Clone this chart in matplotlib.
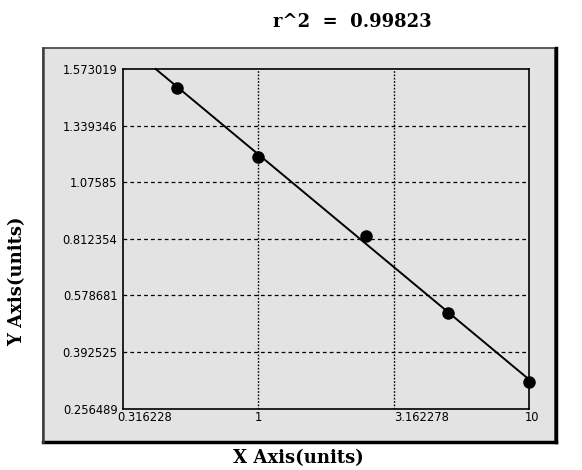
import numpy as np
from matplotlib import pyplot as plt
from matplotlib import transforms
from matplotlib.patches import Rectangle
from matplotlib.lines import Line2D

# standard curve points
conc = [0.5, 1.0, 2.5, 5.0, 10.0]
od = [1.494, 1.193, 0.826, 0.522, 0.319]
r2_text = "r^2  =  0.99823"

x_ticks = [0.316228, 1, 3.162278, 10]
x_labels = ["0.316228", "1", "3.162278", "10"]
y_ticks = [0.256489, 0.392525, 0.578681, 0.812354, 1.07585, 1.339346, 1.573019]
y_labels = ["0.256489", "0.392525", "0.578681", "0.812354", "1.07585", "1.339346", "1.573019"]

panel = '#e3e3e3'


# the y axis puts the labelled values at equal steps
def fwd(v):
    return np.interp(v, y_ticks, np.arange(len(y_ticks)))


def inv(i):
    return np.interp(i, np.arange(len(y_ticks)), y_ticks)


fig = plt.figure(figsize=(5.82, 4.70), dpi=100)
W, H = 582.0, 470.0

# grey panel with shadowed border
fig.patches.append(Rectangle((43 / W, 1 - 442 / H), 512 / W, 394 / H, transform=fig.transFigure,
                             facecolor=panel, edgecolor='#404040', lw=1.2, zorder=-5))
fig.lines.append(Line2D([43 / W, 556 / W], [1 - 442 / H, 1 - 442 / H], transform=fig.transFigure,
                        color='black', lw=2.5, zorder=-4))
fig.lines.append(Line2D([556 / W, 556 / W], [1 - 442 / H, 1 - 48 / H], transform=fig.transFigure,
                        color='black', lw=2.5, zorder=-4))
fig.lines.append(Line2D([43 / W, 43 / W], [1 - 442 / H, 1 - 48 / H], transform=fig.transFigure,
                        color='#404040', lw=1.8, zorder=-4))

ax = fig.add_axes([123 / W, 1 - 408.5 / H, 406 / W, 339.5 / H])
ax.set_facecolor(panel)
ax.set_xscale('log')
ax.set_yscale('function', functions=(fwd, inv))
ax.set_xlim(x_ticks[0], x_ticks[-1])
ax.set_ylim(y_ticks[0], y_ticks[-1])

# fit a straight line in the axis' own coordinates
lx = np.log10(conc)
a, b = np.polyfit(lx, fwd(np.array(od)), 1)
x_top = (len(y_ticks) - 1 - b) / a
xs = np.linspace(x_top, 1.0, 50)
ax.plot(10 ** xs, inv(a * xs + b), color='black', lw=1.4, zorder=3, clip_on=False)
ax.plot(conc, od, 'o', color='black', ms=8, zorder=4, clip_on=False)

for yv in y_ticks[1:-1]:
    ax.axhline(yv, color='black', lw=0.9, ls=(0, (3, 2.5)), zorder=1)
for xv in x_ticks[1:-1]:
    ax.axvline(xv, color='black', lw=1.0, ls=(0, (1.2, 1.2)), zorder=1)

for s in ax.spines.values():
    s.set_linewidth(1.2)
    s.set_color('black')

ax.set_xticks(x_ticks)
ax.set_xticklabels(x_labels)
ax.set_yticks(y_ticks)
ax.set_yticklabels(y_labels)
ax.xaxis.set_minor_locator(plt.NullLocator())
ax.yaxis.set_minor_locator(plt.NullLocator())
ax.tick_params(axis='both', length=0, labelsize=8.3, colors='black')
ax.tick_params(axis='y', pad=4)
ax.tick_params(axis='x', pad=2)

xl = ax.get_xticklabels()
for i in (0, 2):
    xl[i].set_ha('left')
xl[0].set_transform(xl[0].get_transform() + transforms.ScaledTranslation(-6 / 100, 0, fig.dpi_scale_trans))
xl[3].set_transform(xl[3].get_transform() + transforms.ScaledTranslation(3 / 100, 0, fig.dpi_scale_trans))

fig.text(352 / W, 1 - 22 / H, r2_text, ha='center', va='center',
         family='DejaVu Serif', weight='bold', fontsize=13)
fig.text(298 / W, 1 - 458 / H, "X Axis(units)", ha='center', va='center',
         family='DejaVu Serif', weight='bold', fontsize=13)
fig.text(17 / W, 1 - 281 / H, "Y Axis(units)", ha='center', va='center', rotation=90,
         family='DejaVu Serif', weight='bold', fontsize=13)

plt.savefig("out.png", dpi=100)
